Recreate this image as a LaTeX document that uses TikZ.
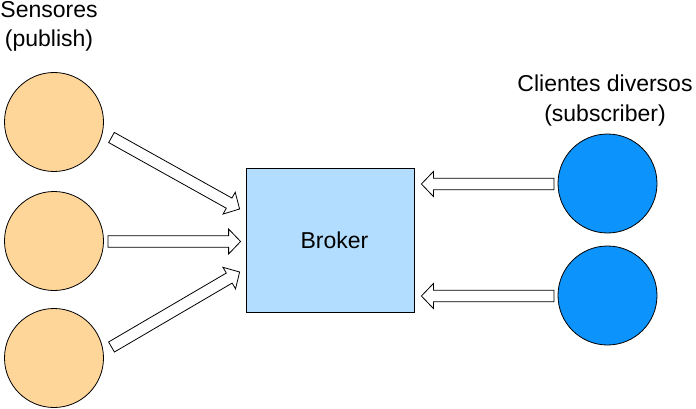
\documentclass[tikz,border=0pt]{standalone}
\usepackage{fontspec}
\setmainfont{Liberation Sans}
\usetikzlibrary{calc}
\definecolor{sensfill}{HTML}{FFD699}
\definecolor{clifill}{HTML}{0C93FC}
\definecolor{brokfill}{HTML}{B3DDFE}
\tikzset{
  sensor/.style={circle, draw=black, fill=sensfill, minimum size=99pt, inner sep=0pt, line width=0.8pt},
  client/.style={circle, draw=black, fill=clifill, minimum size=99pt, inner sep=0pt, line width=0.8pt},
  brokerbox/.style={rectangle, draw=black, fill=brokfill, minimum width=168pt, minimum height=144pt, inner sep=0pt, line width=0.8pt, font=\fontsize{23}{27}\selectfont},
  lbl/.style={anchor=base, font=\fontsize{23}{28}\selectfont, inner sep=0pt},
  blockarrow/.style={draw=black, fill=white, line width=0.8pt, line join=miter}
}
% \blockarrow{from}{to}
\newcommand{\blockarrow}[2]{%
  \coordinate (BAh) at ($(#2)!12pt!(#1)$);
  \draw[blockarrow]
    ($(#1)!5.8pt!90:(#2)$) -- ($(BAh)!5.8pt!90:(#2)$) -- ($(BAh)!12.5pt!90:(#2)$) --
    (#2) -- ($(BAh)!12.5pt!-90:(#2)$) -- ($(BAh)!5.8pt!-90:(#2)$) -- ($(#1)!5.8pt!-90:(#2)$) -- cycle;
}
\begin{document}
\begin{tikzpicture}[x=1pt, y=-1pt]
\useasboundingbox (0,0) rectangle (696,409);
\node[sensor] (s1) at (54,122) {};
\node[sensor] (s2) at (54,241) {};
\node[sensor] (s3) at (54,358) {};
\node[client] (c1) at (607.5,183.5) {};
\node[client] (c2) at (607.5,295.5) {};
\node[brokerbox] (b) at (330,240) {\hspace*{9pt}Broker};
\node[lbl] (ls1) at (49,18) {Sensores};
\node[lbl] (ls2) at (49,47) {(publish)};
\node[lbl] (lc1) at (605,91.5) {Clientes diversos};
\node[lbl] (lc2) at (605,121.5) {(subscriber)};
\coordinate (a1s) at ($(s1)+(57.5,15.5)$);
\coordinate (a1e) at ($(b.west)+(-6,-31)$);
\coordinate (a2s) at ($(s2)+(54,0.5)$);
\coordinate (a2e) at ($(b.west)+(-5,1.5)$);
\coordinate (a3s) at ($(s3)+(57.5,-11)$);
\coordinate (a3e) at ($(b.west)+(-6,32)$);
\coordinate (a4s) at ($(c1)+(-53.5,0.5)$);
\coordinate (a4e) at ($(b.east)+(7,-56)$);
\coordinate (a5s) at ($(c2)+(-53.5,0.5)$);
\coordinate (a5e) at ($(b.east)+(7,56)$);
\blockarrow{a1s}{a1e}
\blockarrow{a2s}{a2e}
\blockarrow{a3s}{a3e}
\blockarrow{a4s}{a4e}
\blockarrow{a5s}{a5e}
\end{tikzpicture}
\end{document}
